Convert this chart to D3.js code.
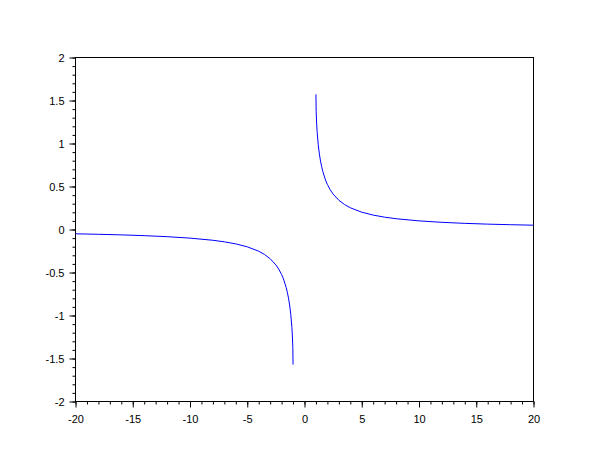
<!DOCTYPE html>
<html><head><meta charset="utf-8">
<script src="https://cdn.jsdelivr.net/npm/d3@7"></script>
<style>body{margin:0;background:#fff;} svg{display:block;} text{font-family:"Liberation Sans",Arial,sans-serif;font-size:11px;fill:#000;}</style>
</head><body><svg id="c" width="610" height="460"></svg>
<script>
// Positive branch (x >= 1)
const xPos = [1, 1.02, 1.05, 1.1, 1.2, 1.3, 1.4, 1.5, 1.6, 1.8, 1.9, 2, 2.25, 2.5, 3, 3.5, 4, 5, 6, 7, 8, 10, 12, 14, 16, 18, 20];
const yPos = [1.5708, 1.3724, 1.2608, 1.1408, 0.9851, 0.8773, 0.7956, 0.7297, 0.6751, 0.5890, 0.5543, 0.5236, 0.4606, 0.4115, 0.3398, 0.2898, 0.2527, 0.2014, 0.1674, 0.1433, 0.1253, 0.1002, 0.0834, 0.0715, 0.0625, 0.0556, 0.0500];
// Negative branch (x <= -1)
const xNeg = [-20, -18, -16, -14, -12, -10, -8, -7, -6, -5, -4, -3.5, -3, -2.5, -2.25, -2, -1.9, -1.8, -1.6, -1.5, -1.4, -1.3, -1.2, -1.1, -1.05, -1.02, -1];
const yNeg = [-0.0500, -0.0556, -0.0625, -0.0715, -0.0834, -0.1002, -0.1253, -0.1433, -0.1674, -0.2014, -0.2527, -0.2898, -0.3398, -0.4115, -0.4606, -0.5236, -0.5543, -0.5890, -0.6751, -0.7297, -0.7956, -0.8773, -0.9851, -1.1408, -1.2608, -1.3724, -1.5708];
const xTicks = [-20, -15, -10, -5, 0, 5, 10, 15, 20];
const yTicks = [-2, -1.5, -1, -0.5, 0, 0.5, 1, 1.5, 2];

const svg = d3.select("#c");
const L = 75.5, R = 533.5, T = 57.5, B = 401.5;
const x = d3.scaleLinear().domain([-20, 20]).range([L, R]);
const y = d3.scaleLinear().domain([-2, 2]).range([B, T]);

// frame
svg.append("rect").attr("x", L).attr("y", T).attr("width", R - L).attr("height", B - T)
  .attr("fill", "none").attr("stroke", "#000").attr("stroke-width", 1);

// x axis
const xMinor = d3.range(-20, 21, 1);
const gx = svg.append("g").attr("transform", `translate(0,${B})`);
gx.call(d3.axisBottom(x).tickValues(xMinor).tickSize(3).tickFormat("")).call(g => g.select(".domain").remove());
gx.append("g").call(d3.axisBottom(x).tickValues(xTicks).tickSize(6).tickPadding(8).tickFormat(d => String(d)))
  .call(g => g.select(".domain").remove())
  .call(g => g.selectAll("text").style("font-size", "11px").style("font-family", "Liberation Sans, Arial, sans-serif"));

// y axis
const yMinor = d3.range(-20, 21, 1).map(v => v / 10);
const gy = svg.append("g").attr("transform", `translate(${L},0)`);
gy.call(d3.axisLeft(y).tickValues(yMinor).tickSize(3).tickFormat("")).call(g => g.select(".domain").remove());
gy.append("g").call(d3.axisLeft(y).tickValues(yTicks).tickSize(6).tickPadding(5).tickFormat(d => String(d)))
  .call(g => g.select(".domain").remove())
  .call(g => g.selectAll("text").style("font-size", "11px").style("font-family", "Liberation Sans, Arial, sans-serif"));
svg.selectAll(".tick line").attr("stroke", "#000");

// curves
const line = d3.line().x(d => x(d[0])).y(d => y(d[1]));
svg.append("path").datum(xNeg.map((v, i) => [v, yNeg[i]])).attr("d", line)
  .attr("fill", "none").attr("stroke", "#0000ff").attr("stroke-width", 1);
svg.append("path").datum(xPos.map((v, i) => [v, yPos[i]])).attr("d", line)
  .attr("fill", "none").attr("stroke", "#0000ff").attr("stroke-width", 1);
</script></body></html>
